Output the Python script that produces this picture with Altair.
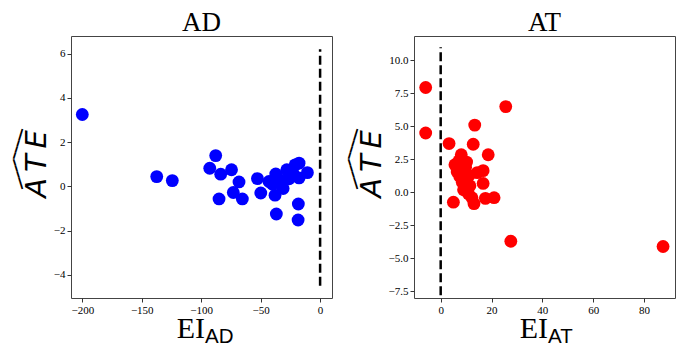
import altair as alt
import pandas as pd

# AD panel
ad_x = [-200, -137.4, -124.3, -87.8, -92.8, -83.6, -74.5, -68.2, -73.0, -85.0,
        -65.4, -52.7, -49.9, -43.0, -37.3, -37.9, -31.1, -26.1, -21.0, -17.7,
        -10.7, -17.7, -18.3, -36.8, -18.5, -28.0, -40.0, -34.0, -23.0]
ad_y = [3.25, 0.44, 0.26, 1.39, 0.82, 0.55, 0.75, 0.20, -0.28, -0.57,
        -0.57, 0.35, -0.30, 0.22, 0.56, -0.40, -0.10, 0.34, 0.97, 1.05,
        0.62, 0.38, -0.80, -1.25, -1.52, 0.75, 0.10, 0.30, 0.60]
ad_line_x = [0, 0]
ad_line_y = [-4.5, 6.2]

# AT panel
at_x = [-5.9, -5.9, 25.6, 13.4, 3.3, 12.8, 18.7, 8.1, 5.0, 27.6,
        87.5, 21.0, 17.6, 13.1, 16.7, 16.7, 5.6, 6.5, 10.2, 8.5,
        11.1, 10.9, 9.8, 7.5, 11.5, 12.3, 14.4, 9.0, 7.2]
at_y = [7.95, 4.5, 6.5, 5.1, 3.7, 3.65, 2.85, 2.85, -0.74, -3.7,
        -4.1, -0.4, -0.45, -0.85, 1.65, 0.68, 2.1, 1.55, 2.3, 0.77,
        1.27, -0.1, 1.9, 1.2, 0.5, -0.4, 1.5, 0.2, 2.4]
at_line_x = [0, 0]
at_line_y = [-7.8, 11.0]

ad_yticks = [-4, -2, 0, 2, 4, 6]
at_yticks = [-7.5, -5, -2.5, 0, 2.5, 5, 7.5, 10]
ad_xticks = [-200, -150, -100, -50, 0]
at_xticks = [0, 20, 40, 60, 80]

W, H = 261, 262
SERIF = "Liberation Serif"


def panel(name, xs, ys, lx, ly, color, xdom, ydom, xticks, yticks, yfmt, ate_x, hat_x):
    pts = pd.DataFrame({"x": xs, "y": ys})
    line = pd.DataFrame({"x": lx, "y": ly})
    xsc = alt.Scale(domain=xdom, nice=False, zero=False)
    ysc = alt.Scale(domain=ydom, nice=False, zero=False)
    xax = alt.Axis(values=xticks, title=None, grid=False, format="d", labelOverlap=False,
                   labelFlush=False)
    yax = alt.Axis(values=yticks, title=None, grid=False, format=yfmt, labelOverlap=False,
                   labelFlush=False)
    scatter = alt.Chart(pts).mark_circle(size=165, opacity=1, color=color).encode(
        x=alt.X("x:Q", scale=xsc, axis=xax),
        y=alt.Y("y:Q", scale=ysc, axis=yax),
    )
    dash = alt.Chart(line).mark_line(color="black", strokeWidth=2.5, strokeDash=[9, 4]).encode(
        x=alt.X("x:Q", scale=xsc, axis=xax), y=alt.Y("y:Q", scale=ysc, axis=yax)
    )
    lab = pd.DataFrame({"ei": ["EI"], "sub": [name], "ate": ["A\u2009T\u2009E"], "hat": ["━━━━━"]})
    ei = alt.Chart(lab).mark_text(font=SERIF, fontSize=30, align="right", baseline="alphabetic",
                                  color="black").encode(
        x=alt.value(134), y=alt.value(302), text="ei:N")
    sub = alt.Chart(lab).mark_text(font="Liberation Sans", fontSize=20.5, align="left",
                                   baseline="alphabetic", color="black").encode(
        x=alt.value(134), y=alt.value(307), text="sub:N")
    ate = alt.Chart(lab).mark_text(font="DejaVu Sans", fontStyle="italic", fontSize=29, angle=270,
                                   align="center", baseline="alphabetic", color="black").encode(
        x=alt.value(ate_x), y=alt.value(128), text="ate:N")
    hat1 = alt.Chart(lab).mark_text(font="DejaVu Sans Mono", fontSize=10.4, angle=286.7,
                                    align="center", baseline="middle", color="black").encode(
        x=alt.value(hat_x), y=alt.value(108), text="hat:N")
    hat2 = alt.Chart(lab).mark_text(font="DejaVu Sans Mono", fontSize=10.4, angle=253.3,
                                    align="center", baseline="middle", color="black").encode(
        x=alt.value(hat_x), y=alt.value(138), text="hat:N")
    return alt.layer(scatter, dash, ei, sub, ate, hat1, hat2).properties(
        width=W, height=H,
        title=alt.TitleParams(name, font=SERIF, fontSize=27, fontWeight="normal", anchor="middle",
                              offset=-1, color="black"),
    )


left = panel("AD", ad_x, ad_y, ad_line_x, ad_line_y, "#0000ff", [-209.5, 10], [-5.05, 6.8],
             ad_xticks, ad_yticks, "d", -25, -52.5)
right = panel("AT", at_x, at_y, at_line_x, at_line_y, "#ff0000", [-10.5, 92.2], [-8.0, 11.85],
              at_xticks, at_yticks, ".1f", -33, -60.5)

chart = alt.hconcat(left, right, spacing=82, bounds="flush").configure_view(
    stroke="#444444", strokeWidth=1
).configure_axis(
    labelFont=SERIF, labelFontSize=11, labelColor="black", tickColor="#333333",
    tickSize=4, domain=False, labelPadding=2
).properties(padding={"left": 0, "top": 0, "right": 5, "bottom": 0})

chart.save("out.html", embed_options={"renderer": "svg", "actions": False})
